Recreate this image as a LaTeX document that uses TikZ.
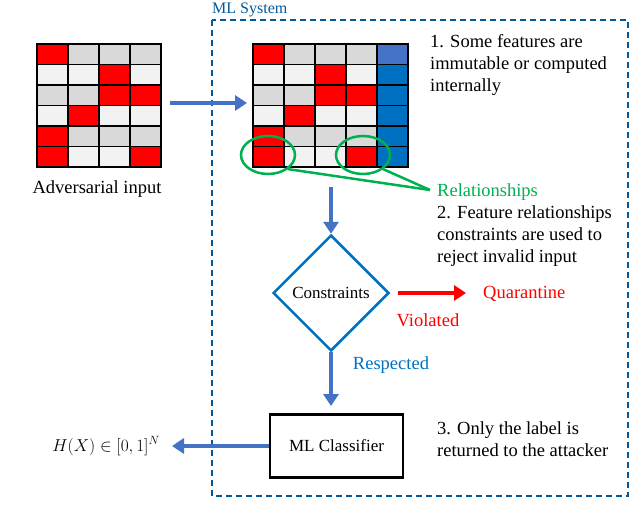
\documentclass[tikz,border=0pt]{standalone}
\usepackage{fontspec}
\setmainfont{Liberation Serif}
\usetikzlibrary{shapes.geometric,arrows.meta}
\definecolor{cR}{HTML}{FF0000}
\definecolor{cG}{HTML}{D9D9D9}
\definecolor{cL}{HTML}{F2F2F2}
\definecolor{cB}{HTML}{0070C0}
\definecolor{cBl}{HTML}{4472C4}
\definecolor{cGr}{HTML}{00B050}
\definecolor{arr}{HTML}{4472C4}
\begin{document}
\begin{tikzpicture}[x=1pt,y=-1pt,
  txt/.style={font=\fontsize{18.5}{22}\selectfont,align=left,inner sep=0pt},
  flow/.style={draw=arr,line width=4pt,-{Triangle[length=12pt,width=15pt]}},
  cell/.style={draw=black,line width=1.2pt}]
\useasboundingbox (0,0) rectangle (640,532);
\def\cw{31}\def\ch{20.5}
\foreach \row [count=\r from 0] in {{cR,cG,cG,cG},{cL,cL,cR,cL},{cG,cG,cR,cR},{cL,cR,cL,cL},{cR,cG,cG,cG},{cR,cL,cL,cR}}{
  \foreach \c [count=\k from 0] in \row {
    \fill[\c,cell] (37+\k*\cw,44+\r*\ch) rectangle ++(\cw,\ch);
  }
}
\foreach \row [count=\r from 0] in {{cR,cG,cG,cG,cBl},{cL,cL,cR,cL,cB},{cG,cG,cR,cR,cB},{cL,cR,cL,cL,cB},{cR,cG,cG,cG,cB},{cR,cL,cL,cR,cB}}{
  \foreach \c [count=\k from 0] in \row {
    \fill[\c,cell] (253+\k*\cw,44+\r*\ch) rectangle ++(\cw,\ch);
  }
}
\coordinate (rg) at (247,103);
\node[txt] (adv) at (97,189) {Adversarial input};
\draw[draw=cB!80!black,dashed,line width=1.5pt,dash pattern=on 6pt off 4pt] (212,20) rectangle (628,496);
\node[txt,text=cB!80!black,anchor=west,font=\fontsize{16}{20}\selectfont] (mls) at (212,10) {ML System};
\draw[flow] (170,103) -- (rg);
\node[draw=cGr,line width=2.5pt,ellipse,minimum width=54pt,minimum height=38pt] (e1) at (268,155) {};
\node[draw=cGr,line width=2.5pt,ellipse,minimum width=54pt,minimum height=38pt] (e2) at (363,155) {};
\node[txt,text=cGr,anchor=west] (rel) at (437,192) {Relationships};
\coordinate (rj) at (430,190);
\draw[cGr,line width=2.5pt] (e1.-35) -- (rj);
\draw[cGr,line width=2.5pt] (e2.-35) -- (rj);
\node[txt,anchor=north west] (t1) at (430,34) {1. Some features are\\immutable or computed\\internally};
\node[txt,anchor=north west] (t2) at (437,205) {2. Feature relationships\\constraints are used to\\reject invalid input};
\node[txt,anchor=north west] (t3) at (437,421) {3. Only the label is\\returned to the attacker};
\node[diamond,draw=cB,line width=2.5pt,minimum width=116pt,minimum height=116pt,inner sep=0pt,font=\fontsize{17}{20}\selectfont] (con) at (331,293) {Constraints};
\coordinate (gb) at (331,187);
\draw[flow] (gb) -- (con.north);
\coordinate (q) at (466,293);
\draw[draw=cR,line width=4pt,-{Triangle[length=12pt,width=15pt]}] (398,293) -- (q);
\node[txt,text=cR,anchor=west] (qt) at (483,294) {Quarantine};
\node[txt,text=cR] (vi) at (428,320) {Violated};
\node[draw=black,line width=2.5pt,minimum width=133pt,minimum height=63pt,inner sep=0pt,font=\fontsize{17}{20}\selectfont] (mlc) at (336.5,446) {ML Classifier};
\draw[flow] (con.south) -- (331,406);
\node[txt,text=cB] (re) at (391,365) {Respected};
\node[txt,font=\fontsize{17}{20}\selectfont] (hx) at (106,446) {$H(X)\in[0,1]^N$};
\draw[flow] (mlc.west) -- (172,446);
\end{tikzpicture}
\end{document}
